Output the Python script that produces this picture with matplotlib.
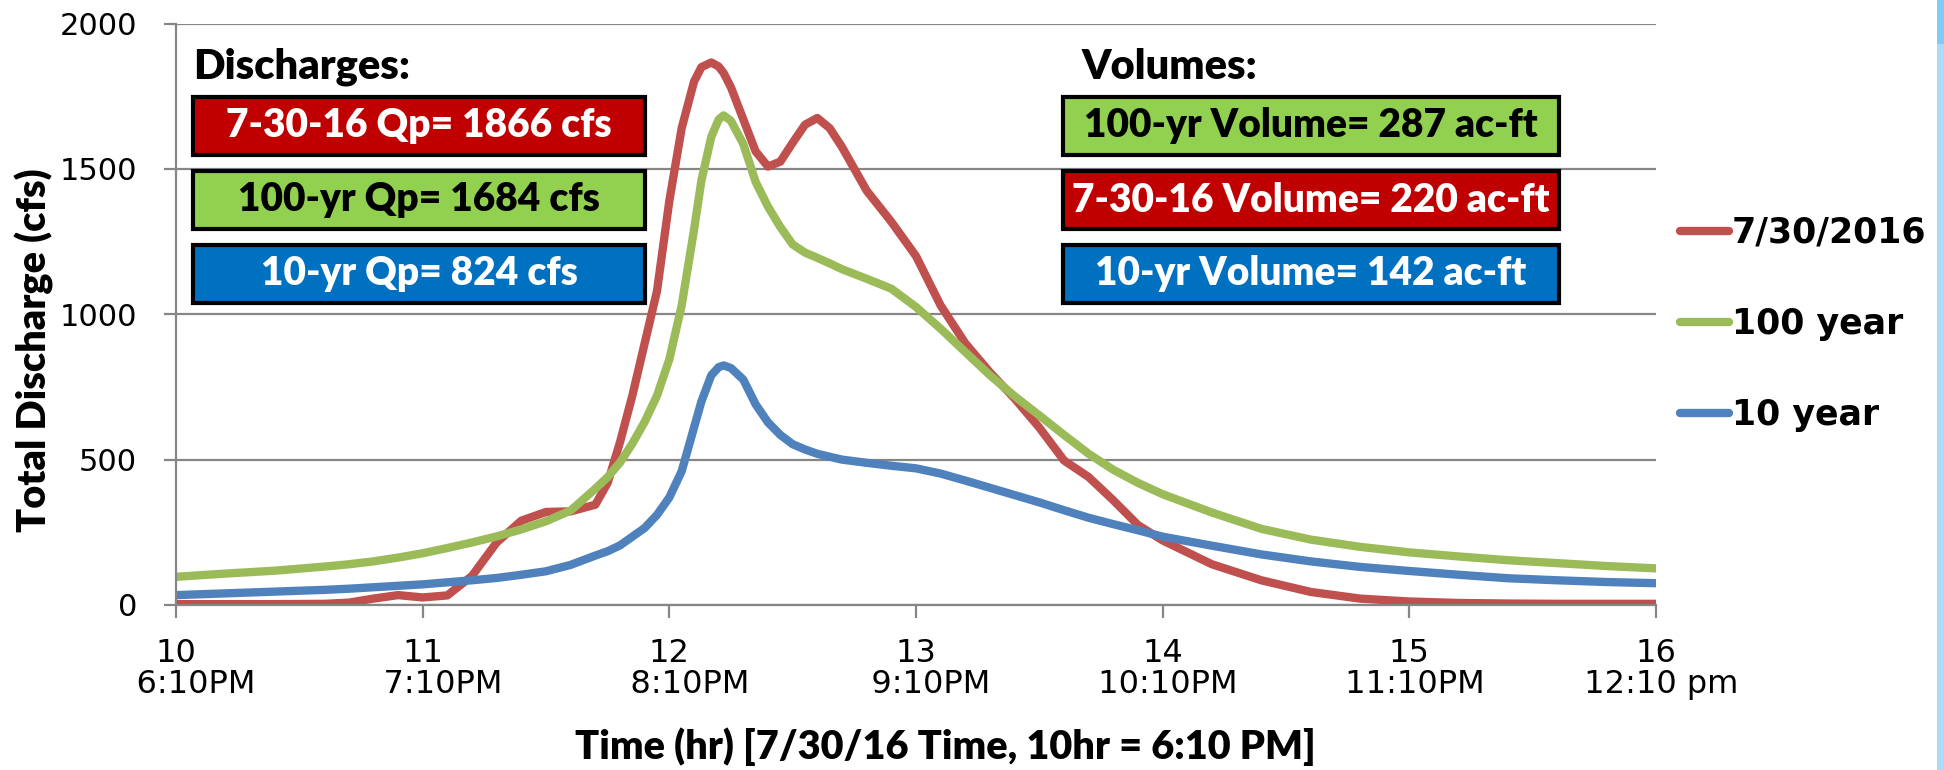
import numpy as np
import matplotlib.pyplot as plt
from matplotlib.patches import Rectangle

# hydrograph ordinates (hours since midnight, cfs)
hours = [10.0, 10.2, 10.4, 10.6, 10.7, 10.8, 10.9, 11.0, 11.1, 11.2, 11.3, 11.4,
         11.5, 11.6, 11.7, 11.75, 11.8, 11.85, 11.9, 11.95, 12.0, 12.05, 12.1,
         12.13, 12.17, 12.2, 12.22, 12.25, 12.3, 12.35, 12.4, 12.45, 12.5, 12.55,
         12.6, 12.65, 12.7, 12.8, 12.9, 13.0, 13.1, 13.2, 13.3, 13.4, 13.5, 13.6,
         13.7, 13.8, 13.9, 14.0, 14.2, 14.4, 14.6, 14.8, 15.0, 15.2, 15.4, 15.6,
         15.8, 16.0]

q_event = [3, 3, 3, 4, 8, 22, 34, 26, 33, 100, 215, 290,
           320, 322, 345, 420, 560, 720, 900, 1080, 1390, 1640, 1800,
           1850, 1866, 1852, 1830, 1780, 1670, 1560, 1508, 1525, 1590, 1652,
           1675, 1640, 1575, 1425, 1318, 1200, 1030, 900, 800, 710, 610, 497,
           440, 360, 275, 222, 140, 85, 45, 22, 12, 7, 5, 4,
           4, 4]

q_100yr = [97, 108, 118, 132, 140, 150, 163, 178, 196, 215, 236, 260,
           288, 325, 400, 440, 490, 555, 630, 720, 845, 1030, 1290,
           1460, 1610, 1670, 1684, 1665, 1585, 1455, 1370, 1300, 1240, 1212,
           1194, 1175, 1155, 1122, 1088, 1025, 950, 870, 790, 718, 652, 585,
           520, 465, 420, 381, 318, 262, 225, 200, 181, 167, 154, 144,
           134, 126]

q_10yr = [34, 40, 46, 52, 56, 61, 66, 71, 78, 85, 93, 104,
          116, 138, 170, 185, 205, 235, 265, 310, 370, 460, 610,
          700, 790, 818, 824, 815, 775, 690, 628, 585, 553, 535,
          520, 510, 500, 489, 479, 470, 452, 428, 403, 378, 353, 326,
          300, 278, 257, 235, 204, 174, 150, 131, 117, 104, 92, 85,
          79, 75]

series_names = ['7/30/2016', '100 year', '10 year']
series_colors = ['#C0504D', '#9BBB59', '#4F81BD']

tick_hours = [10, 11, 12, 13, 14, 15, 16]
tick_times = ['    6:10PM', '    7:10PM', '    8:10PM', '   9:10PM',
              ' 10:10PM', ' 11:10PM', ' 12:10 pm']

discharge_labels = ['7-30-16 Qp= 1866 cfs', '100-yr Qp= 1684 cfs', '10-yr Qp= 824 cfs']
discharge_fill = ['#C00000', '#92D050', '#0070C0']
volume_labels = ['100-yr Volume= 287 ac-ft', '7-30-16 Volume= 220 ac-ft', '10-yr Volume= 142 ac-ft']
volume_fill = ['#92D050', '#C00000', '#0070C0']

W, H = 1944, 770
fig = plt.figure(figsize=(W / 100, H / 100), dpi=100)
ax = fig.add_axes([176 / W, 1 - 605 / H, (1656 - 176) / W, (605 - 23.5) / H])

grey = '#868686'
for q, name, col in zip([q_event, q_100yr, q_10yr], series_names, series_colors):
    ax.plot(hours, q, color=col, lw=6, label=name,
            solid_capstyle='round', solid_joinstyle='round')

ax.set_xlim(10, 16)
ax.set_ylim(0, 2000)
ax.set_yticks([0, 500, 1000, 1500, 2000])
ax.set_xticks(tick_hours, [f'{h}\n{t}' for h, t in zip(tick_hours, tick_times)],
              linespacing=1.0)
ax.yaxis.grid(True, color=grey, lw=1.6)
ax.set_axisbelow(True)
for s in ['top', 'right']:
    ax.spines[s].set_visible(False)
for s in ['left', 'bottom']:
    ax.spines[s].set_color(grey)
    ax.spines[s].set_linewidth(1.6)
ax.tick_params(axis='y', length=9, width=1.6, color=grey, pad=19, labelsize=22)
ax.tick_params(axis='x', length=9, width=1.6, color=grey, pad=15, labelsize=23)

leg = ax.legend(loc='center left', bbox_to_anchor=(1680 / W, 1 - 324 / H),
                bbox_transform=fig.transFigure, frameon=False,
                prop={'family': 'DejaVu Sans', 'weight': 'bold', 'size': 25},
                handlelength=1.4, handletextpad=0.1, labelspacing=1.65,
                borderpad=0, borderaxespad=0)

fig.text(34 / W, 1 - 350 / H, 'Total Discharge (cfs)', rotation=90,
         ha='center', va='center', family='Lato', weight='heavy', fontsize=28.5)
fig.text(945 / W, 1 - 747 / H, 'Time (hr) [7/30/16 Time, 10hr = 6:10 PM]',
         ha='center', va='center', family='Lato', weight='heavy', fontsize=28.5)

# annotation boxes
box_tops = [97, 171, 245]
box_h = 58


def draw_boxes(x0, x1, labels, fills, header, header_x):
    fig.text(header_x / W, 1 - 79 / H, header, ha='left', va='baseline',
             family='Lato', weight='heavy', fontsize=30)
    for top, lab, fc in zip(box_tops, labels, fills):
        fig.add_artist(Rectangle((x0 / W, 1 - (top + box_h) / H), (x1 - x0) / W,
                                 box_h / H, transform=fig.transFigure,
                                 facecolor=fc, edgecolor='black', lw=3))
        fig.text((x0 + x1) / 2 / W, 1 - (top + box_h / 2) / H, lab,
                 ha='center', va='center', family='Lato', weight='heavy',
                 fontsize=28, color='black' if fc == '#92D050' else 'white')


draw_boxes(193, 645, discharge_labels, discharge_fill, 'Discharges:', 193)
draw_boxes(1063, 1559, volume_labels, volume_fill, 'Volumes:', 1082)

# slide edge on the right
fig.add_artist(Rectangle((1937 / W, 0), 7 / W, 1, transform=fig.transFigure,
                         facecolor='#A8DCFA', edgecolor='none'))
fig.add_artist(Rectangle((1937 / W, 1 - 44 / H), 7 / W, 44 / H,
                         transform=fig.transFigure, facecolor='#7FCAF8',
                         edgecolor='none'))

fig.savefig('out.png', dpi=100)
